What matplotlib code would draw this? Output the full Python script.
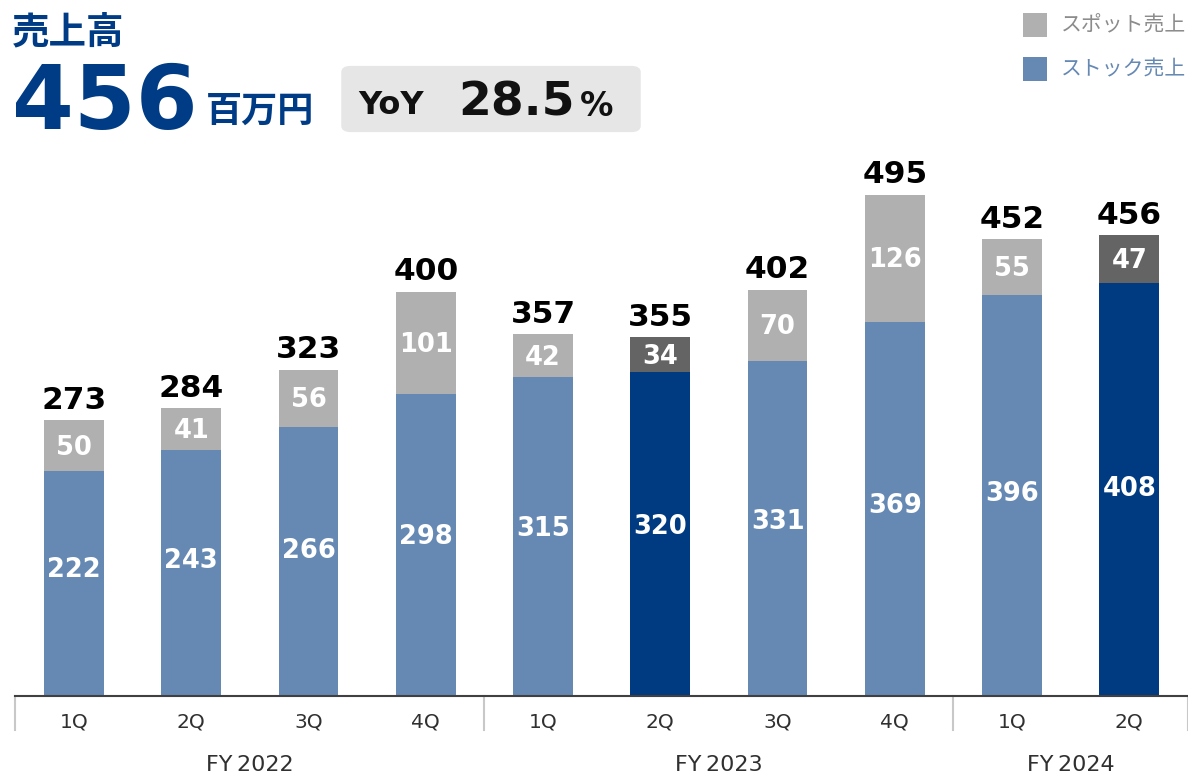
import matplotlib
matplotlib.use("Agg")
from matplotlib import pyplot as plt
from matplotlib.patches import FancyBboxPatch, Rectangle

plt.rcParams['font.family'] = ['DejaVu Sans', 'Noto Sans CJK JP']

quarters = ["1Q", "2Q", "3Q", "4Q", "1Q", "2Q", "3Q", "4Q", "1Q", "2Q"]
stock = [222, 243, 266, 298, 315, 320, 331, 369, 396, 408]
spot = [50, 41, 56, 101, 42, 34, 70, 126, 55, 47]
totals = [273, 284, 323, 400, 357, 355, 402, 495, 452, 456]
years = ["FY\u20092022", "FY\u20092023", "FY\u20092024"]
year_sizes = [4, 4, 2]
highlight = [5, 9]

stock_col = "#6689B4"
stock_hi = "#003A80"
spot_col = "#B0B0B0"
spot_hi = "#646464"
title_col = "#003C85"

fig = plt.figure(figsize=(11.88, 7.76), dpi=100)
ax = fig.add_axes([15.4 / 1188, 80 / 776, 1 - 15.4 / 1188, 506.5 / 776])

x = list(range(len(stock)))
sc = [stock_hi if i in highlight else stock_col for i in x]
pc = [spot_hi if i in highlight else spot_col for i in x]
ax.bar(x, stock, width=0.51, color=sc)
ax.bar(x, spot, width=0.51, bottom=stock, color=pc)

for i in x:
    # stock labels sit a bit above the middle of their segment, as in the original
    ax.text(i, 29 + 0.43 * stock[i], str(stock[i]), ha="center", va="center",
            color="white", fontsize=18.5, fontweight="bold")
    ax.text(i, stock[i] + spot[i] / 2 - 2, str(spot[i]), ha="center", va="center",
            color="white", fontsize=18.5, fontweight="bold")
    ax.annotate(str(totals[i]), (i, stock[i] + spot[i]), xytext=(0, 4),
                textcoords="offset points", ha="center", va="bottom",
                fontsize=22.5, fontweight="bold", color="black")

ax.set_xlim(-0.5, len(stock) - 0.5)
ax.set_ylim(0, 500)
ax.set_yticks([])
for s in ["top", "right", "left"]:
    ax.spines[s].set_visible(False)
ax.spines["bottom"].set_color("#404040")
ax.spines["bottom"].set_linewidth(1.5)
ax.set_xticks(x)
ax.set_xticklabels(quarters, fontsize=14.5, color="#303030")
ax.tick_params(axis="x", length=0, pad=12)

# group separators and year labels
trans = ax.get_xaxis_transform()
start = 0
bounds = [-0.5]
for name, n in zip(years, year_sizes):
    mid = start + (n - 1) / 2
    ax.text(mid, -0.137, name, transform=trans, ha="center", va="center",
            fontsize=16, color="#303030")
    start += n
    bounds.append(start - 0.5)
for b in bounds:
    ax.plot([b, b], [0, -0.068], transform=trans, color="#C8C8C8",
            lw=1.5, clip_on=False)

# header
fig.text(12 / 1188, 1 - 32 / 776, "売上高", fontsize=27, fontweight="bold",
         color=title_col, family=["Noto Sans CJK JP"], va="center")
fig.text(12 / 1188, 1 - 104 / 776, "456", fontsize=64, fontweight="bold",
         color=title_col, va="center")
fig.text(206 / 1188, 1 - 111 / 776, "百万円", fontsize=26, fontweight="bold",
         color=title_col, family=["Noto Sans CJK JP"], va="center")
box = FancyBboxPatch((346 / 1188, 1 - 129 / 776), 290 / 1188, 60 / 776,
                     boxstyle="round,pad=0.004,rounding_size=0.008",
                     transform=fig.transFigure, facecolor="#E6E6E6",
                     edgecolor="none")
fig.patches.append(box)
fig.text(358 / 1188, 1 - 106 / 776, "YoY", fontsize=23, fontweight="bold",
         color="#111111", va="center")
fig.text(458 / 1188, 1 - 103 / 776, "28.5", fontsize=34, fontweight="bold",
         color="#111111", va="center")
fig.text(580 / 1188, 1 - 107 / 776, "%", fontsize=24, fontweight="bold",
         color="#111111", va="center")

# legend
for yy, col, lab, tc in [(25, spot_col, "スポット売上", "#8C8C8C"),
                         (69, stock_col, "ストック売上", stock_col)]:
    fig.patches.append(Rectangle((1023 / 1188, 1 - (yy + 12) / 776), 24 / 1188,
                                 24 / 776, transform=fig.transFigure,
                                 facecolor=col, edgecolor="none"))
    fig.text(1061 / 1188, 1 - yy / 776, lab, fontsize=15, color=tc,
             family=["Noto Sans CJK JP"], va="center")

fig.savefig("out.png", dpi=100)
